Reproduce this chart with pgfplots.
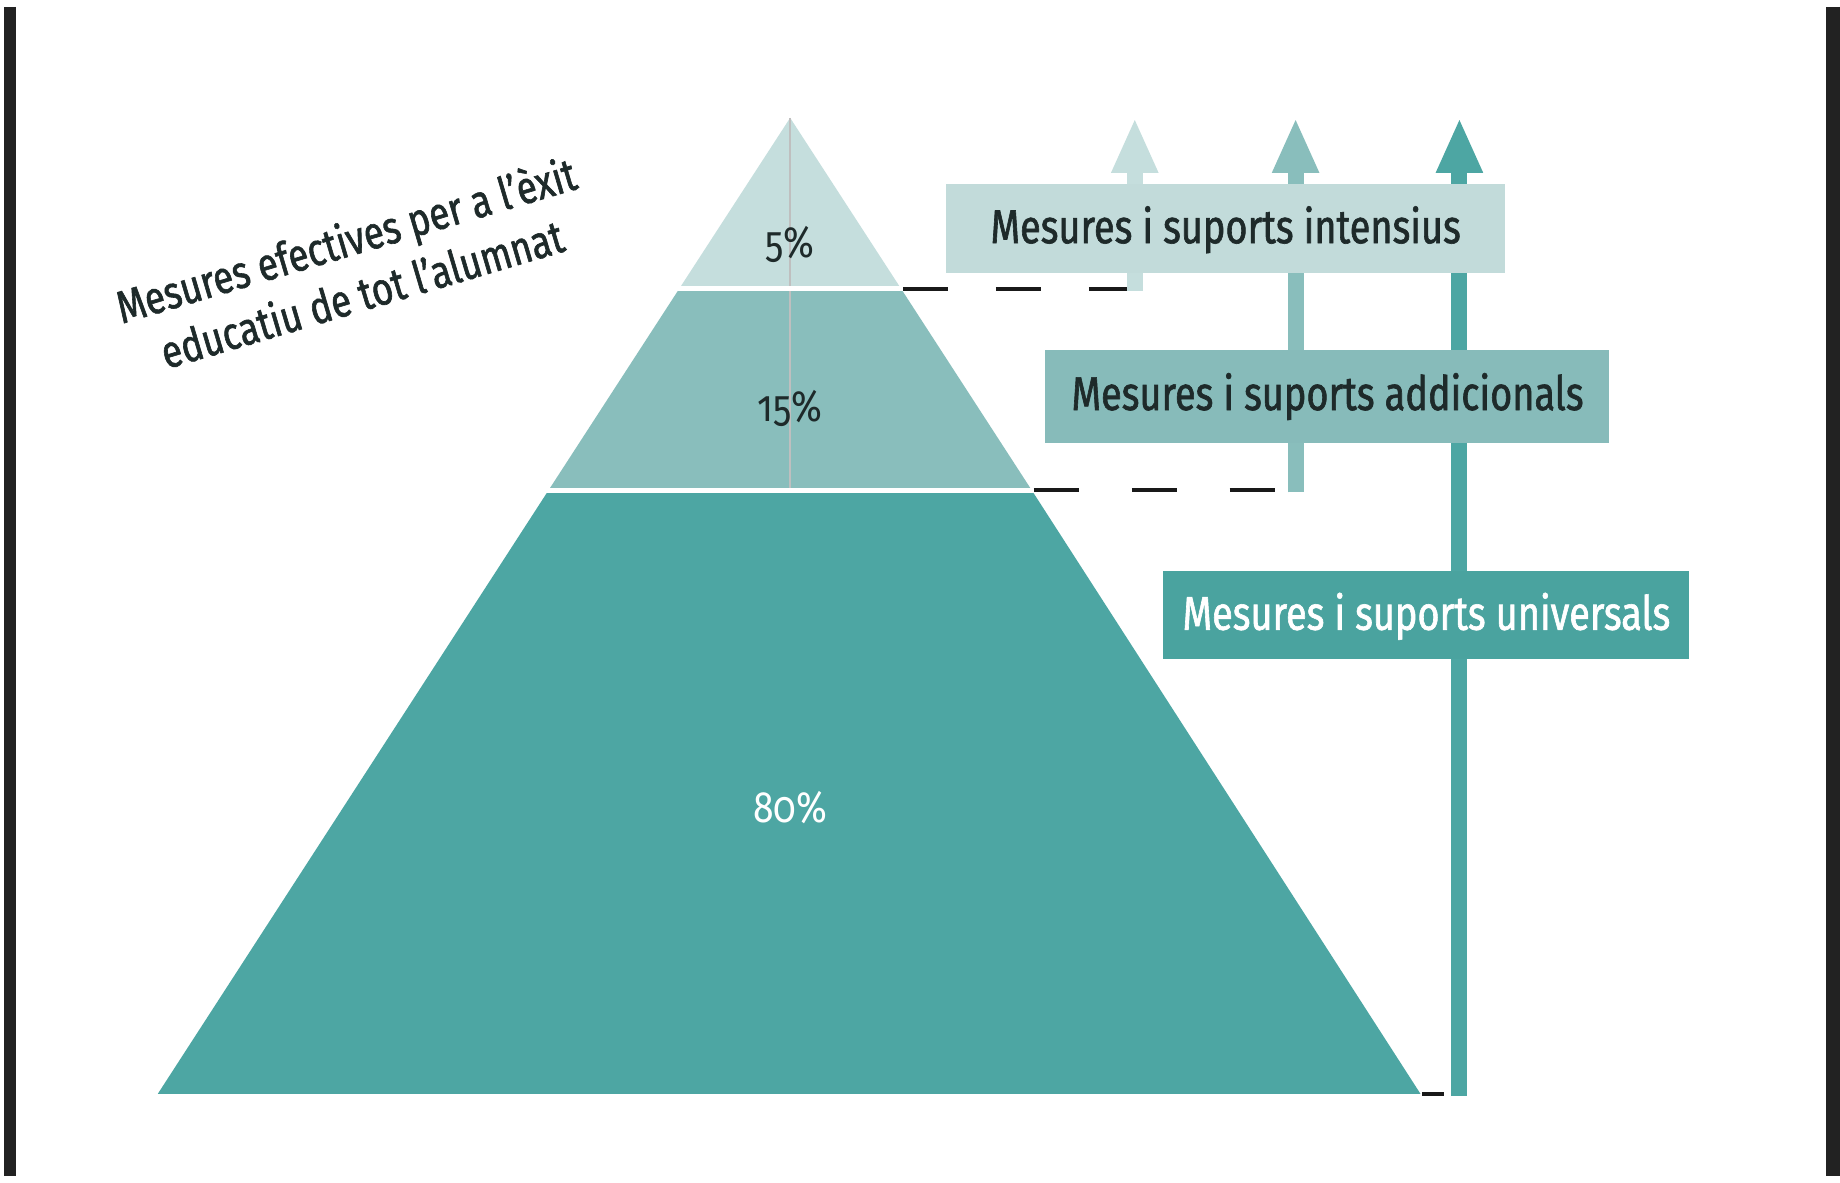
\documentclass[border=0pt]{standalone}
\usepackage{pgfplots}
\pgfplotsset{compat=1.18}
\usepackage{fontspec}
\setmainfont{Fira Sans}[FakeStretch=0.80]
\newfontfamily\semi{Fira Sans}[FakeStretch=0.80, FakeBold=1.3]
\newfontfamily\pctfont{Fira Sans}[FakeStretch=0.85, Numbers=OldStyle]
\usetikzlibrary{arrows.meta}

\definecolor{tlight}{HTML}{C5DEDD}
\definecolor{tmid}{HTML}{89BEBC}
\definecolor{tdark}{HTML}{4DA6A3}
\definecolor{blight}{HTML}{C2DBDA}
\definecolor{bmid}{HTML}{87BBBA}
\definecolor{bdark}{HTML}{4AA39F}
\definecolor{frame}{HTML}{222222}
\definecolor{txt}{HTML}{1E2A2A}

\begin{document}
\begin{tikzpicture}
\begin{axis}[
    width=184mm, height=117.3mm, scale only axis,
    xmin=0, xmax=1840, ymin=0, ymax=1173,
    y dir=reverse, hide axis, clip=false]

% background and page frame
\addplot[fill=white, draw=none] coordinates {(0,0) (1840,0) (1840,1173) (0,1173)} -- cycle;
\addplot[frame, line width=1.2mm] coordinates {(10,3) (10,1173)};
\addplot[frame, line width=1.4mm] coordinates {(1835,3) (1835,1173)};

% pyramid: 80 / 15 / 5
\addplot[fill=tdark, draw=none] coordinates {(549,487) (1033,487) (1422,1091) (158,1091)} -- cycle;
\addplot[fill=tmid, draw=none] coordinates {(680,285) (902,285) (1033,487) (549,487)} -- cycle;
\addplot[fill=tlight, draw=none] coordinates {(791,114) (902,285) (680,285)} -- cycle;
\addplot[color=black!25, line width=0.15mm] coordinates {(791,114) (791,487)};
\addplot[white, line width=0.45mm] coordinates {(678,285) (904,285)};
\addplot[white, line width=0.45mm] coordinates {(546,487) (1036,487)};

% dashed links
\addplot[black!90, line width=0.4mm, dash pattern=on 4.5mm off 4.8mm] coordinates {(904,285) (1136,285)};
\addplot[black!90, line width=0.4mm, dash pattern=on 4.5mm off 5.3mm] coordinates {(1035,487) (1297,487)};
\addplot[black!90, line width=0.4mm] coordinates {(1424,1091) (1446,1091)};

% arrows
\addplot[tlight, line width=1.6mm, -{Triangle[width=4.3mm,length=5.5mm]}] coordinates {(1136,287) (1136,114)};
\addplot[tmid, line width=1.6mm, -{Triangle[width=4.3mm,length=5.5mm]}] coordinates {(1297,489) (1297,114)};
\addplot[tdark, line width=1.6mm, -{Triangle[width=4.3mm,length=5.5mm]}] coordinates {(1461,1093) (1461,114)};

% label boxes
\addplot[fill=blight, draw=none] coordinates {(947,180) (1507,180) (1507,269) (947,269)} -- cycle;
\addplot[fill=bmid, draw=none] coordinates {(1046,346) (1611,346) (1611,439) (1046,439)} -- cycle;
\addplot[fill=bdark, draw=none] coordinates {(1164,568) (1691,568) (1691,656) (1164,656)} -- cycle;

\node[text=txt, font=\semi\fontsize{13.5}{15}\selectfont] at (axis cs:1227,226) {Mesures i suports intensius};
\node[text=txt, font=\semi\fontsize{13.5}{15}\selectfont] at (axis cs:1329,393) {Mesures i suports addicionals};
\node[text=white, font=\semi\fontsize{13.5}{15}\selectfont] at (axis cs:1428,613) {Mesures i suports universals};

\node[text=txt, font=\pctfont\fontsize{12.5}{14}\selectfont] at (axis cs:791,241) {5\%};
\node[text=txt, font=\pctfont\fontsize{12.5}{14}\selectfont] at (axis cs:791,405) {15\%};
\node[text=white, font=\pctfont\fontsize{12.5}{14}\selectfont] at (axis cs:791,804) {80\%};

\node[text=txt, rotate=16.5, align=center, font=\semi\fontsize{13}{16}\selectfont] at (axis cs:354,262)
  {Mesures efectives per a l’èxit\\educatiu de tot l’alumnat};
\end{axis}
\end{tikzpicture}
\end{document}
